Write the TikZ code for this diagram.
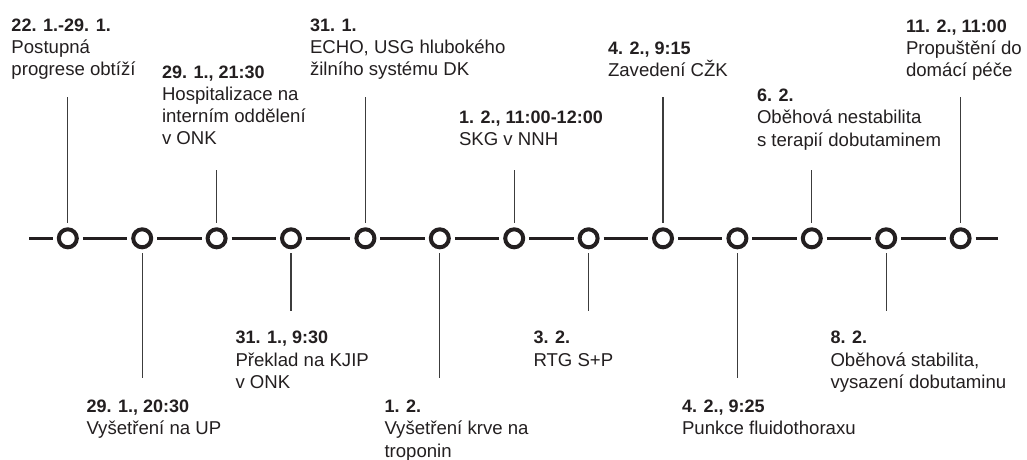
\documentclass[tikz,border=0pt]{standalone}
\usepackage{fontspec}
\setmainfont{Liberation Sans}
\definecolor{ink}{HTML}{231F20}
\definecolor{tick}{HTML}{3C3C3C}
\newcommand\evlabel[1]{\vtop{\baselineskip=22.3pt\lineskiplimit=-30pt\lineskip=0pt\halign{##\hfil\cr#1\crcr}}}
\newcommand\evtitle[1]{{\fontsize{18}{22.3}\selectfont\bfseries #1}}
\tikzset{
  dot/.style={circle, draw=ink, line width=4pt, minimum size=18pt, inner sep=0pt, fill=white},
  seg/.style={draw=ink, line width=3.3pt, shorten <=4pt, shorten >=4pt},
  endseg/.style={draw=ink, line width=3.3pt},
  tickline/.style={draw=tick, line width=1.2pt},
  lbl/.style={anchor=base west, inner sep=0pt, outer sep=0pt, text=ink, font=\fontsize{18.6}{22.3}\selectfont}
}
\begin{document}
\begin{tikzpicture}[x=1pt, y=-1pt]
\useasboundingbox (0,0) rectangle (1027,459);
% circles
\foreach \i in {1,...,13} {
  \node[dot] (c\i) at ({67.8+74.4*(\i-1)}, 238.3) {};
}
% timeline segments
\coordinate (L) at (29,238.3);
\coordinate (R) at (998,238.3);
\draw[endseg, shorten >=4pt] (L) -- (c1);
\foreach \i [evaluate=\i as \j using int(\i+1)] in {1,...,12} {
  \draw[seg] (c\i) -- (c\j);
}
\draw[endseg, shorten <=4pt] (c13) -- (R);
% top ticks
\foreach \i/\y in {1/97, 3/170, 5/97, 7/170, 9/97, 11/170, 13/97} {
  \coordinate (t\i) at ({67.8+74.4*(\i-1)}, \y);
  \draw[tickline, shorten >=4pt] (t\i) -- (c\i.north);
}
% bottom ticks
\foreach \i/\y in {2/378, 4/311, 6/378, 8/311, 10/378, 12/311} {
  \coordinate (b\i) at ({67.8+74.4*(\i-1)}, \y);
  \draw[tickline, shorten <=3.7pt] (c\i.south) -- (b\i);
}
% labels top
\node[lbl] (l1) at (11.5, 31) {\evlabel{\evtitle{22. 1.-29. 1.}\cr Postupná\cr progrese obtíží}};
\node[lbl] (l3) at (162, 78) {\evlabel{\evtitle{29. 1., 21:30}\cr Hospitalizace na\cr interním oddělení\cr v ONK}};
\node[lbl] (l5) at (310, 31) {\evlabel{\evtitle{31. 1.}\cr ECHO, USG hlubokého\cr žilního systému DK}};
\node[lbl] (l7) at (459, 123.5) {\evlabel{\evtitle{1. 2., 11:00-12:00}\cr SKG v NNH}};
\node[lbl] (l9) at (608, 54) {\evlabel{\evtitle{4. 2., 9:15}\cr Zavedení CŽK}};
\node[lbl] (l11) at (757, 101.5) {\evlabel{\evtitle{6. 2.}\cr Oběhová nestabilita\cr s terapií dobutaminem}};
\node[lbl] (l13) at (906, 32) {\evlabel{\evtitle{11. 2., 11:00}\cr Propuštění do\cr domácí péče}};
% labels bottom
\node[lbl] (l2) at (86.5, 412.5) {\evlabel{\evtitle{29. 1., 20:30}\cr Vyšetření na UP}};
\node[lbl] (l4) at (235.5, 343.7) {\evlabel{\evtitle{31. 1., 9:30}\cr Překlad na KJIP\cr v ONK}};
\node[lbl] (l6) at (384.5, 412.5) {\evlabel{\evtitle{1. 2.}\cr Vyšetření krve na\cr troponin}};
\node[lbl] (l8) at (533.5, 343.7) {\evlabel{\evtitle{3. 2.}\cr RTG S+P}};
\node[lbl] (l10) at (682, 412.5) {\evlabel{\evtitle{4. 2., 9:25}\cr Punkce fluidothoraxu}};
\node[lbl] (l12) at (830.5, 343.7) {\evlabel{\evtitle{8. 2.}\cr Oběhová stabilita,\cr vysazení dobutaminu}};
\end{tikzpicture}
\end{document}
